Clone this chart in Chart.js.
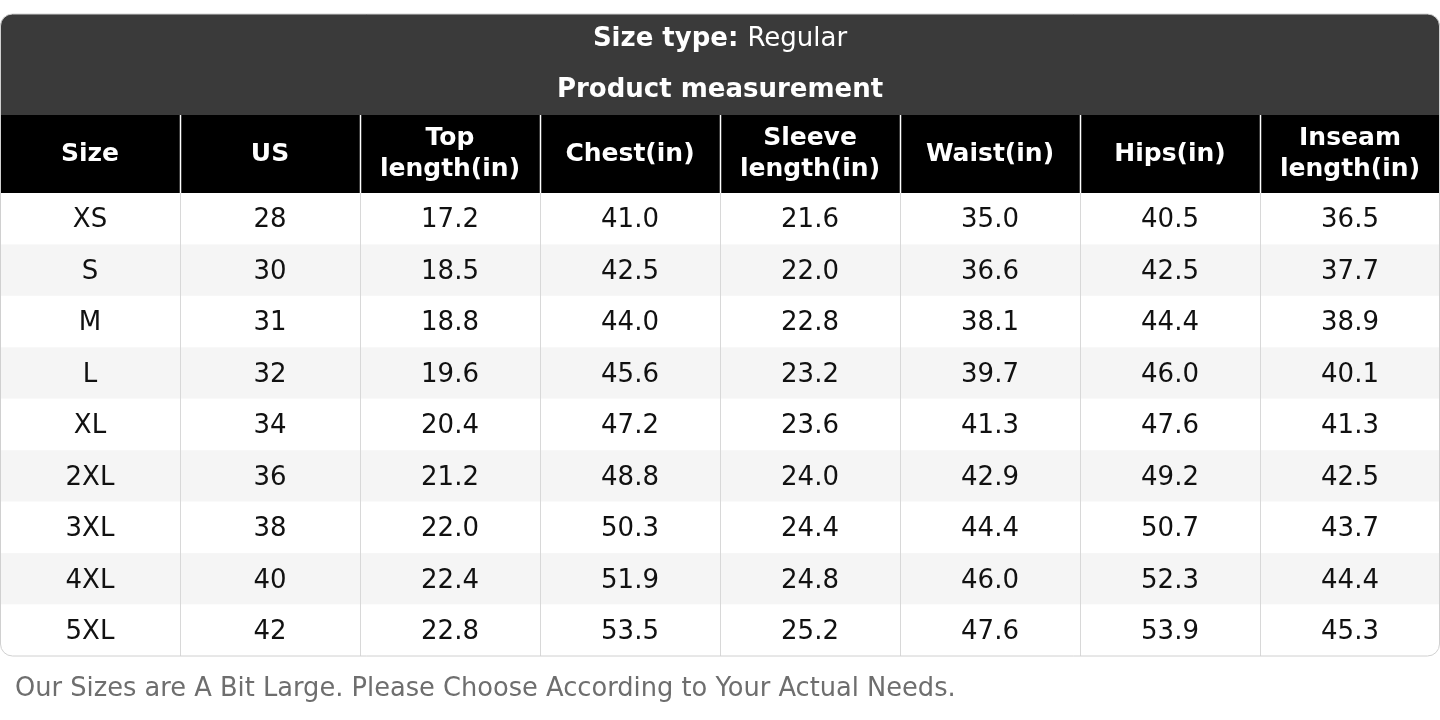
<!DOCTYPE html>
<html>
<head>
<meta charset="utf-8">
<script src="https://cdn.jsdelivr.net/npm/chart.js@4"></script>
<style>
  body { margin: 0; background: #fff; }
  #wrap { width: 1440px; height: 720px; }
</style>
</head>
<body>
<div id="wrap"><canvas id="sizeChart"></canvas></div>
<script>
// table data
const columns = ['Size', 'US', 'Top\nlength(in)', 'Chest(in)', 'Sleeve\nlength(in)', 'Waist(in)', 'Hips(in)', 'Inseam\nlength(in)'];
const sizes = ['XS', 'S', 'M', 'L', 'XL', '2XL', '3XL', '4XL', '5XL'];
const us = [28, 30, 31, 32, 34, 36, 38, 40, 42];
const topLength = [17.2, 18.5, 18.8, 19.6, 20.4, 21.2, 22.0, 22.4, 22.8];
const chest = [41.0, 42.5, 44.0, 45.6, 47.2, 48.8, 50.3, 51.9, 53.5];
const sleeve = [21.6, 22.0, 22.8, 23.2, 23.6, 24.0, 24.4, 24.8, 25.2];
const waist = [35.0, 36.6, 38.1, 39.7, 41.3, 42.9, 44.4, 46.0, 47.6];
const hips = [40.5, 42.5, 44.4, 46.0, 47.6, 49.2, 50.7, 52.3, 53.9];
const inseam = [36.5, 37.7, 38.9, 40.1, 41.3, 42.5, 43.7, 44.4, 45.3];

const valueCols = [sizes, us, topLength, chest, sleeve, waist, hips, inseam];
const font = '"DejaVu Sans", sans-serif';

const tablePlugin = {
    id: 'sizeTable',
    beforeDraw(chart) {
        const ctx = chart.ctx;
        const x = chart.scales.x, y = chart.scales.y;
        const area = chart.chartArea;
        const colW = (area.right - area.left) / columns.length;
        const rowH = (area.bottom - area.top) / sizes.length;

        ctx.save();
        // outer rounded box
        ctx.beginPath();
        ctx.roundRect(0.5, 14, 1439, area.bottom - 14, 12);
        ctx.fillStyle = '#ffffff';
        ctx.fill();
        ctx.clip();

        // dark title band
        ctx.fillStyle = '#3a3a3a';
        ctx.fillRect(0, 14, 1440, 101);
        // black header row
        ctx.fillStyle = '#000000';
        ctx.fillRect(0, 115, 1440, area.top - 115);

        // striped rows
        sizes.forEach((s, i) => {
            ctx.fillStyle = i % 2 === 0 ? '#ffffff' : '#f5f5f5';
            ctx.fillRect(0, y.getPixelForValue(i) - rowH / 2, 1440, rowH);
        });

        // vertical lines
        for (let c = 1; c < columns.length; c++) {
            const lx = Math.round(area.left + c * colW) + 0.5;
            ctx.strokeStyle = '#ffffff';
            ctx.lineWidth = 1.5;
            ctx.beginPath(); ctx.moveTo(lx, 115); ctx.lineTo(lx, area.top); ctx.stroke();
            ctx.strokeStyle = '#d8d8d8';
            ctx.lineWidth = 1;
            ctx.beginPath(); ctx.moveTo(lx, area.top); ctx.lineTo(lx, area.bottom); ctx.stroke();
        }
        ctx.restore();

        ctx.save();
        ctx.beginPath();
        ctx.roundRect(0.5, 14, 1439, area.bottom - 14, 12);
        ctx.strokeStyle = '#d0d0d0';
        ctx.lineWidth = 1;
        ctx.stroke();

        // titles
        ctx.textBaseline = 'middle';
        ctx.fillStyle = '#ffffff';
        const t1 = 'Size type: ', t2 = 'Regular';
        ctx.font = 'bold 26px ' + font;
        const w1 = ctx.measureText(t1).width;
        ctx.font = '26px ' + font;
        const w2 = ctx.measureText(t2).width;
        const sx = 720 - (w1 + w2) / 2;
        ctx.textAlign = 'left';
        ctx.font = 'bold 26px ' + font;
        ctx.fillText(t1, sx, 39);
        ctx.font = '26px ' + font;
        ctx.fillText(t2, sx + w1, 39);
        ctx.textAlign = 'center';
        ctx.font = 'bold 26px ' + font;
        ctx.fillText('Product measurement', 720, 90);

        // column headers
        ctx.font = 'bold 25px ' + font;
        const hMid = (115 + area.top) / 2;
        columns.forEach((label, c) => {
            const cx = x.getPixelForValue(c);
            const lines = label.split('\n');
            lines.forEach((ln, k) => {
                ctx.fillText(ln, cx, hMid + (k - (lines.length - 1) / 2) * 31);
            });
        });

        // cells
        ctx.fillStyle = '#111111';
        ctx.font = '26px ' + font;
        valueCols.forEach((col, c) => {
            col.forEach((v, r) => {
                const txt = typeof v === 'number' && c > 1 ? v.toFixed(1) : String(v);
                ctx.fillText(txt, x.getPixelForValue(c), y.getPixelForValue(r) + 2);
            });
        });

        // footnote
        ctx.textAlign = 'left';
        ctx.fillStyle = '#6e6e6e';
        ctx.font = '25.7px ' + font;
        ctx.fillText('Our Sizes are A Bit Large. Please Choose According to Your Actual Needs.', 15, 689);
        ctx.restore();
    }
};

new Chart(document.getElementById('sizeChart'), {
    type: 'bar',
    data: {
        labels: columns,
        datasets: [{ data: [], backgroundColor: 'transparent' }]
    },
    options: {
        responsive: true,
        maintainAspectRatio: false,
        animation: false,
        layout: { padding: { left: 0, right: 0, top: 193, bottom: 64 } },
        plugins: { legend: { display: false }, tooltip: { enabled: false } },
        scales: {
            x: { type: 'category', labels: columns, offset: true, display: false },
            y: { type: 'category', labels: sizes, offset: true, display: false }
        }
    },
    plugins: [tablePlugin]
});
</script>
</body>
</html>
